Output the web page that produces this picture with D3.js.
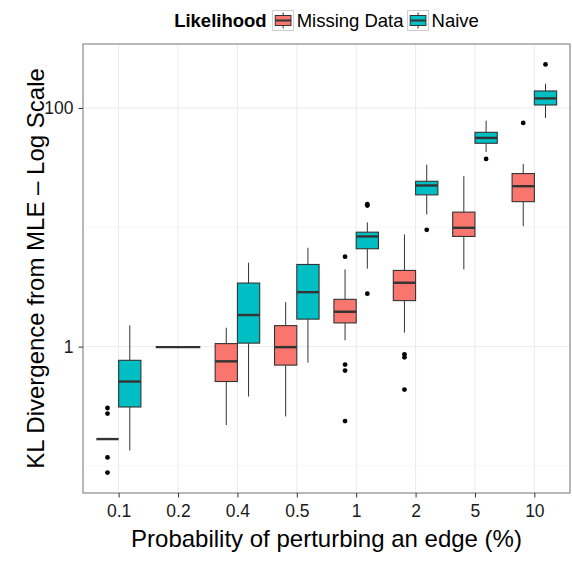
<!DOCTYPE html>
<html>
<head>
<meta charset="utf-8">
<script src="https://cdn.jsdelivr.net/npm/d3@7"></script>
<style>
  body { margin: 0; background: #fff; }
  text { font-family: "Liberation Sans", Arial, Helvetica, sans-serif; }
</style>
</head>
<body>
<svg width="572" height="561"></svg>
<script>
const svg = d3.select('svg');
const width = +svg.attr('width');
const height = +svg.attr('height');

// categories and groups
const categories = ['0.1', '0.2', '0.4', '0.5', '1', '2', '5', '10'];
const groups = ['Missing Data', 'Naive'];
const groupColors = ['#F8766D', '#00BFC4'];

// Missing Data box stats (null = no box)
const missingLower  = [0.168, null, 0.22, 0.26, 1.13, 1.31, 4.44, 10.2];
const missingQ1     = [0.168, null, 0.51, 0.70, 1.58, 2.43, 8.38, 16.4];
const missingMedian = [0.168, null, 0.753, 0.99, 1.96, 3.43, 9.90, 22.1];
const missingQ3     = [0.168, null, 1.06, 1.50, 2.49, 4.35, 13.4, 28.2];
const missingUpper  = [0.168, null, 1.44, 2.36, 4.44, 8.71, 26.8, 34.0];
const missingOutliers = [[0.306, 0.275, 0.118, 0.088], [], [], [], [5.67, 0.707, 0.63, 0.238], [0.862, 0.814, 0.437], [], [74.9]];

// Naive box stats
const naiveLower  = [0.135, 0.99, 0.382, 0.735, 4.50, 12.8, 42.8, 82.5];
const naiveQ1     = [0.312, 0.99, 1.07, 1.70, 6.61, 18.7, 50.6, 105.9];
const naiveMedian = [0.51, 0.99, 1.84, 2.86, 8.38, 22.4, 56.1, 120.3];
const naiveQ3     = [0.768, 0.99, 3.41, 4.88, 9.10, 24.3, 62.5, 138.8];
const naiveUpper  = [1.51, 0.99, 5.05, 6.74, 11.0, 33.5, 78.3, 159.7];
const naiveOutliers = [[], [], [], [], [15.6, 15.2, 2.78], [9.53], [37.4], [231.7]];

const yTickValues = [1, 100];
const yMinorValues = [0.1, 10];

const xAxisLabel = 'Probability of perturbing an edge (%)';
const yAxisLabel = 'KL Divergence from MLE \u2013 Log Scale';
const legendTitle = 'Likelihood';

const stats = [
  { lo: missingLower, q1: missingQ1, med: missingMedian, q3: missingQ3, hi: missingUpper, out: missingOutliers },
  { lo: naiveLower, q1: naiveQ1, med: naiveMedian, q3: naiveQ3, hi: naiveUpper, out: naiveOutliers }
];

const boxes = [];
categories.forEach((c, i) => {
  const present = groups.map((g, gi) => gi).filter(gi => stats[gi].med[i] != null);
  present.forEach((gi, k) => {
    const s = stats[gi];
    boxes.push({
      cat: c, group: gi, slot: k, n: present.length,
      lo: s.lo[i], q1: s.q1[i], med: s.med[i], q3: s.q3[i], hi: s.hi[i], out: s.out[i]
    });
  });
});

const margin = { top: 44, right: 2, bottom: 68, left: 83 };
const innerWidth = width - margin.left - margin.right;
const innerHeight = height - margin.top - margin.bottom;

const allVals = boxes.flatMap(b => [b.lo, b.hi, ...b.out]);
const logExt = d3.extent(allVals).map(Math.log10);
const pad = (logExt[1] - logExt[0]) * 0.05;

const xScale = d3.scalePoint()
  .domain(categories)
  .range([0, innerWidth])
  .padding(0.6);
const step = xScale.step();

const yScale = d3.scaleLog()
  .domain([Math.pow(10, logExt[0] - pad), Math.pow(10, logExt[1] + pad)])
  .range([innerHeight, 0]);

const g = svg.append('g')
  .attr('transform', `translate(${margin.left},${margin.top})`);

// grid
g.selectAll('.minor').data(yMinorValues).enter().append('line')
  .attr('x1', 0).attr('x2', innerWidth)
  .attr('y1', d => yScale(d)).attr('y2', d => yScale(d))
  .attr('stroke', '#f5f5f5').attr('stroke-width', 0.8);
g.selectAll('.ygrid').data(yTickValues).enter().append('line')
  .attr('x1', 0).attr('x2', innerWidth)
  .attr('y1', d => yScale(d)).attr('y2', d => yScale(d))
  .attr('stroke', '#ebebeb').attr('stroke-width', 1);
g.selectAll('.xgrid').data(categories).enter().append('line')
  .attr('y1', 0).attr('y2', innerHeight)
  .attr('x1', d => xScale(d)).attr('x2', d => xScale(d))
  .attr('stroke', '#ebebeb').attr('stroke-width', 1);

// boxes
const boxW = d => 0.75 * step / d.n;
const boxX = d => xScale(d.cat) - 0.75 * step / 2 + d.slot * boxW(d) + boxW(d) / 2;

const bg = g.selectAll('.box').data(boxes).enter().append('g');

bg.append('line')
  .attr('x1', boxX).attr('x2', boxX)
  .attr('y1', d => yScale(d.hi)).attr('y2', d => yScale(d.q3))
  .attr('stroke', '#333').attr('stroke-width', 1);
bg.append('line')
  .attr('x1', boxX).attr('x2', boxX)
  .attr('y1', d => yScale(d.q1)).attr('y2', d => yScale(d.lo))
  .attr('stroke', '#333').attr('stroke-width', 1);
bg.append('rect')
  .attr('x', d => boxX(d) - boxW(d) / 2)
  .attr('width', boxW)
  .attr('y', d => yScale(d.q3))
  .attr('height', d => yScale(d.q1) - yScale(d.q3))
  .attr('fill', d => groupColors[d.group])
  .attr('stroke', '#333').attr('stroke-width', 1.1);
bg.append('line')
  .attr('x1', d => boxX(d) - boxW(d) / 2).attr('x2', d => boxX(d) + boxW(d) / 2)
  .attr('y1', d => yScale(d.med)).attr('y2', d => yScale(d.med))
  .attr('stroke', '#333').attr('stroke-width', 2.4);

bg.selectAll('circle').data(d => d.out.map(v => ({ v, x: boxX(d) })))
  .enter().append('circle')
  .attr('cx', d => d.x).attr('cy', d => yScale(d.v))
  .attr('r', 2.4).attr('fill', '#000');

// panel border
g.append('rect')
  .attr('width', innerWidth).attr('height', innerHeight)
  .attr('fill', 'none').attr('stroke', '#7f7f7f').attr('stroke-width', 1.1);

// axes
const xAxis = d3.axisBottom(xScale).tickSize(4.5).tickPadding(7);
const xAxisG = g.append('g').attr('transform', `translate(0,${innerHeight})`).call(xAxis);
xAxisG.select('.domain').remove();
xAxisG.selectAll('line').attr('stroke', '#333');
xAxisG.selectAll('text').attr('font-size', 17.5).attr('fill', '#1a1a1a');

const yAxis = d3.axisLeft(yScale).tickValues(yTickValues).tickFormat(d3.format('d')).tickSize(4.5).tickPadding(5);
const yAxisG = g.append('g').call(yAxis);
yAxisG.select('.domain').remove();
yAxisG.selectAll('line').attr('stroke', '#333');
yAxisG.selectAll('text').attr('font-size', 17.5).attr('fill', '#1a1a1a');

g.append('text')
  .attr('x', innerWidth / 2).attr('y', innerHeight + 54)
  .attr('text-anchor', 'middle').attr('font-size', 24).attr('fill', '#000')
  .text(xAxisLabel);

g.append('text')
  .attr('transform', `rotate(-90)`)
  .attr('x', -innerHeight / 2).attr('y', -39)
  .attr('text-anchor', 'middle').attr('font-size', 24).attr('fill', '#000')
  .text(yAxisLabel);

// legend
const legend = svg.append('g');
const keyW = 21, keyH = 20, baseY = 27;
const lt = legend.append('text').attr('y', baseY).attr('font-size', 18.5)
  .attr('font-weight', 'bold').text(legendTitle);
let cx = lt.node().getComputedTextLength() + 6;
groups.forEach((name, gi) => {
  const k = legend.append('g').attr('transform', `translate(${cx},${baseY - 16.5})`);
  k.append('rect').attr('width', keyW).attr('height', keyH)
    .attr('fill', '#fff').attr('stroke', '#ccc').attr('stroke-width', 1);
  k.append('line').attr('x1', keyW / 2).attr('x2', keyW / 2)
    .attr('y1', keyH * 0.1).attr('y2', keyH * 0.9).attr('stroke', '#333');
  k.append('rect').attr('x', keyW * 0.125).attr('y', keyH * 0.25)
    .attr('width', keyW * 0.75).attr('height', keyH * 0.5)
    .attr('fill', groupColors[gi]).attr('stroke', '#333').attr('stroke-width', 1);
  k.append('line').attr('x1', keyW * 0.125).attr('x2', keyW * 0.875)
    .attr('y1', keyH / 2).attr('y2', keyH / 2).attr('stroke', '#333').attr('stroke-width', 2);
  cx += keyW + 3;
  const t = legend.append('text').attr('x', cx).attr('y', baseY).attr('font-size', 18.5).text(name);
  cx += t.node().getComputedTextLength() + 4;
});
const legendW = cx - 4;
legend.attr('transform', `translate(${margin.left + innerWidth / 2 - legendW / 2},0)`);
</script>
</body>
</html>
